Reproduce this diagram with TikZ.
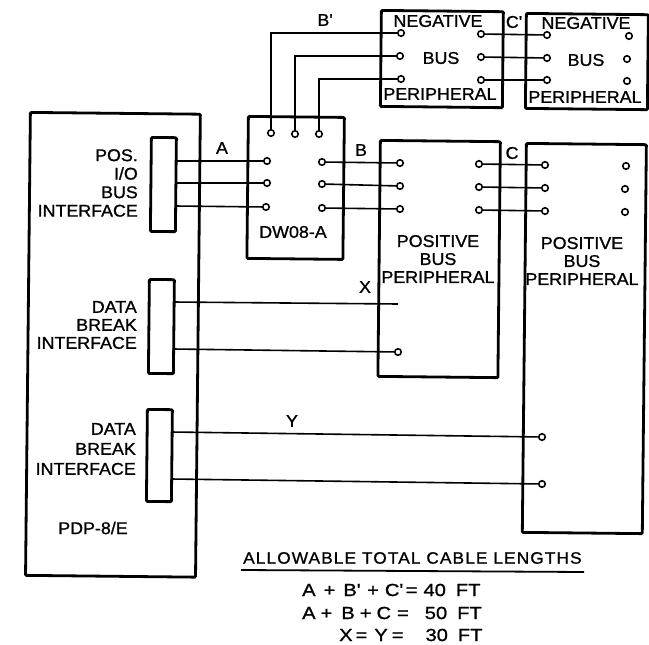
\documentclass[tikz,border=0pt]{standalone}
\usepackage{fontspec}
\setmainfont[FakeBold=1, FakeStretch=1.05]{Liberation Sans}
\newfontfamily\widefont[FakeBold=1, FakeStretch=1.05, LetterSpace=6.5]{Liberation Sans}
\newfontfamily\lenfont[FakeBold=1, FakeStretch=1.15]{Liberation Sans}
\usetikzlibrary{positioning}
\newcommand{\tick}{\textquotesingle}
\tikzset{
    box/.style = {draw, rectangle, rounded corners=1pt, line width=2.8pt, anchor=north west, rotate=-0.6, inner sep=0pt},
    pin/.style = {draw, circle, line width=1.6pt, minimum size=6.5pt, inner sep=0pt, fill=white},
    wire/.style = {line width=1.6pt},
    busfont/.style = {font=\fontsize{17}{18}\selectfont, align=center, inner sep=0pt},
    noteline/.style = {font=\fontsize{17.5}{18}\lenfont, anchor=west, inner sep=0pt}
}

\begin{document}
\begin{tikzpicture}[x=1pt, y=-1pt]
    \useasboundingbox (0,0) rectangle (649,645);

    % Units
    \node[box, minimum width=170pt, minimum height=463pt] (pdp) at (29,111) {};
    \node[box, minimum width=25pt, minimum height=94pt] (ifpos) at (150,136) {};
    \node[box, minimum width=25pt, minimum height=94pt] (ifdataa) at (148,278) {};
    \node[box, minimum width=25pt, minimum height=92pt] (ifdatab) at (146,408) {};
    \node[box, minimum width=96pt, minimum height=142pt] (dw) at (247,115) {};
    \node[box, minimum width=122pt, minimum height=96pt] (negone) at (380,9) {};
    \node[box, minimum width=122pt, minimum height=95pt] (negtwo) at (525,12) {};
    \node[box, minimum width=120pt, minimum height=236pt] (posone) at (379,139) {};
    \node[box, minimum width=120pt, minimum height=389pt] (postwo) at (525,142) {};

    % Unit labels
    \node[busfont, align=right, anchor=east, font=\fontsize{17}{18.5}\selectfont] (lblpos) at (138,183) {POS.\\I/O\\BUS\\INTERFACE};
    \node[busfont, align=right, anchor=east] (lbldataa) at (137,325) {DATA\\BREAK\\INTERFACE};
    \node[busfont, align=right, anchor=east, font=\fontsize{17}{20}\selectfont] (lbldatab) at (136,449) {DATA\\BREAK\\INTERFACE};
    \node[busfont] (lblpdp) at (93,528) {PDP-8/E};
    \node[busfont] (lbldw) at (293,232) {DW08-A};
    \node[busfont] (lblnegone) at (438,21) {NEGATIVE};
    \node[busfont] (lblnegbus) at (441,58) {BUS};
    \node[busfont] (lblnegper) at (440,94) {PERIPHERAL};
    \node[busfont] (lblnegtwo) at (586,23) {NEGATIVE};
    \node[busfont] (lblnegbusb) at (586,60) {BUS};
    \node[busfont] (lblnegperb) at (585,97) {PERIPHERAL};
    \node[busfont] (lblposone) at (438,259) {POSITIVE\\BUS\\PERIPHERAL};
    \node[busfont] (lblpostwo) at (582,261) {POSITIVE\\BUS\\PERIPHERAL};

    % Pins
    \foreach \name/\px/\py in {
        t1/271/133, t2/295/134, t3/319/134,
        dl1/267/161, dl2/267/183, dl3/266/207, dr1/322/162, dr2/322/184, dr3/322/208,
        na1/401/33, na2/400/56, na3/401/79, nb1/481/34, nb2/481/57, nb3/481/80,
        nc1/547/35, nc2/547/58, nc3/547/80, nd1/629/36, nd2/627/59, nd3/627/81,
        pa1/400/163, pa2/400/186, pa3/400/209, pb1/479/164, pb2/479/187, pb3/479/210,
        pc1/545/165, pc2/545/188, pc3/545/211, pd1/626/166, pd2/625/189, pd3/625/212,
        xb/398/352, ya/542/437, yb/542/484}
        \node[pin] (\name) at (\px,\py) {};

    % Cable ends
    \foreach \name/\px/\py in {
        ia1/175/161, ia2/175/183, ia3/175/206,
        ix1/173/302, ix2/173/349, iy1/171/432, iy2/171/479, xa/398/304}
        \coordinate (\name) at (\px,\py);

    % Cables
    \foreach \from/\to in {ia1/dl1, ia2/dl2, ia3/dl3, dr1/pa1, dr2/pa2, dr3/pa3,
        pb1/pc1, pb2/pc2, pb3/pc3, nb1/nc1, nb2/nc2, nb3/nc3,
        ix1/xa, ix2/xb, iy1/ya, iy2/yb}
        \draw[wire] (\from) -- (\to);
    \draw[wire] (t1) |- (na1);
    \draw[wire] (t2) |- (na2);
    \draw[wire] (t3) |- (na3);

    % Cable labels
    \node[busfont] (lblA) at (222,148) {A};
    \node[busfont] (lblB) at (361,150) {B};
    \node[busfont] (lblC) at (512,153) {C};
    \node[busfont] (lblBp) at (325,20) {B\tick};
    \node[busfont] (lblCp) at (514,22) {C\tick};
    \node[busfont] (lblX) at (365,287) {X};
    \node[busfont] (lblY) at (292,421) {Y};

    % Cable lengths
    \node[noteline, font=\fontsize{16.5}{18}\widefont] (lentitle) at (243,558) {ALLOWABLE TOTAL CABLE LENGTHS};
    \coordinate (ulstart) at (241,570);
    \coordinate (ulend) at (584,572);
    \draw[line width=1.8pt] (ulstart) -- (ulend);
    \node[noteline] (lena) at (302,590) {A\hspace{8pt}+\hspace{8pt}B\tick\hspace{7pt}+\hspace{6pt}C\tick\hspace{3pt}=\hspace{6pt}40\hspace{10pt}FT};
    \node[noteline] (lenb) at (302,613) {A\hspace{5pt}+\hspace{9pt}B\hspace{5pt}+\hspace{5pt}C\hspace{6pt}=\hspace{16pt}50\hspace{10pt}FT};
    \node[noteline] (lenc) at (339,635) {X\hspace{3pt}=\hspace{7pt}Y\hspace{4pt}=\hspace{22pt}30\hspace{10pt}FT};

\end{tikzpicture}
\end{document}
